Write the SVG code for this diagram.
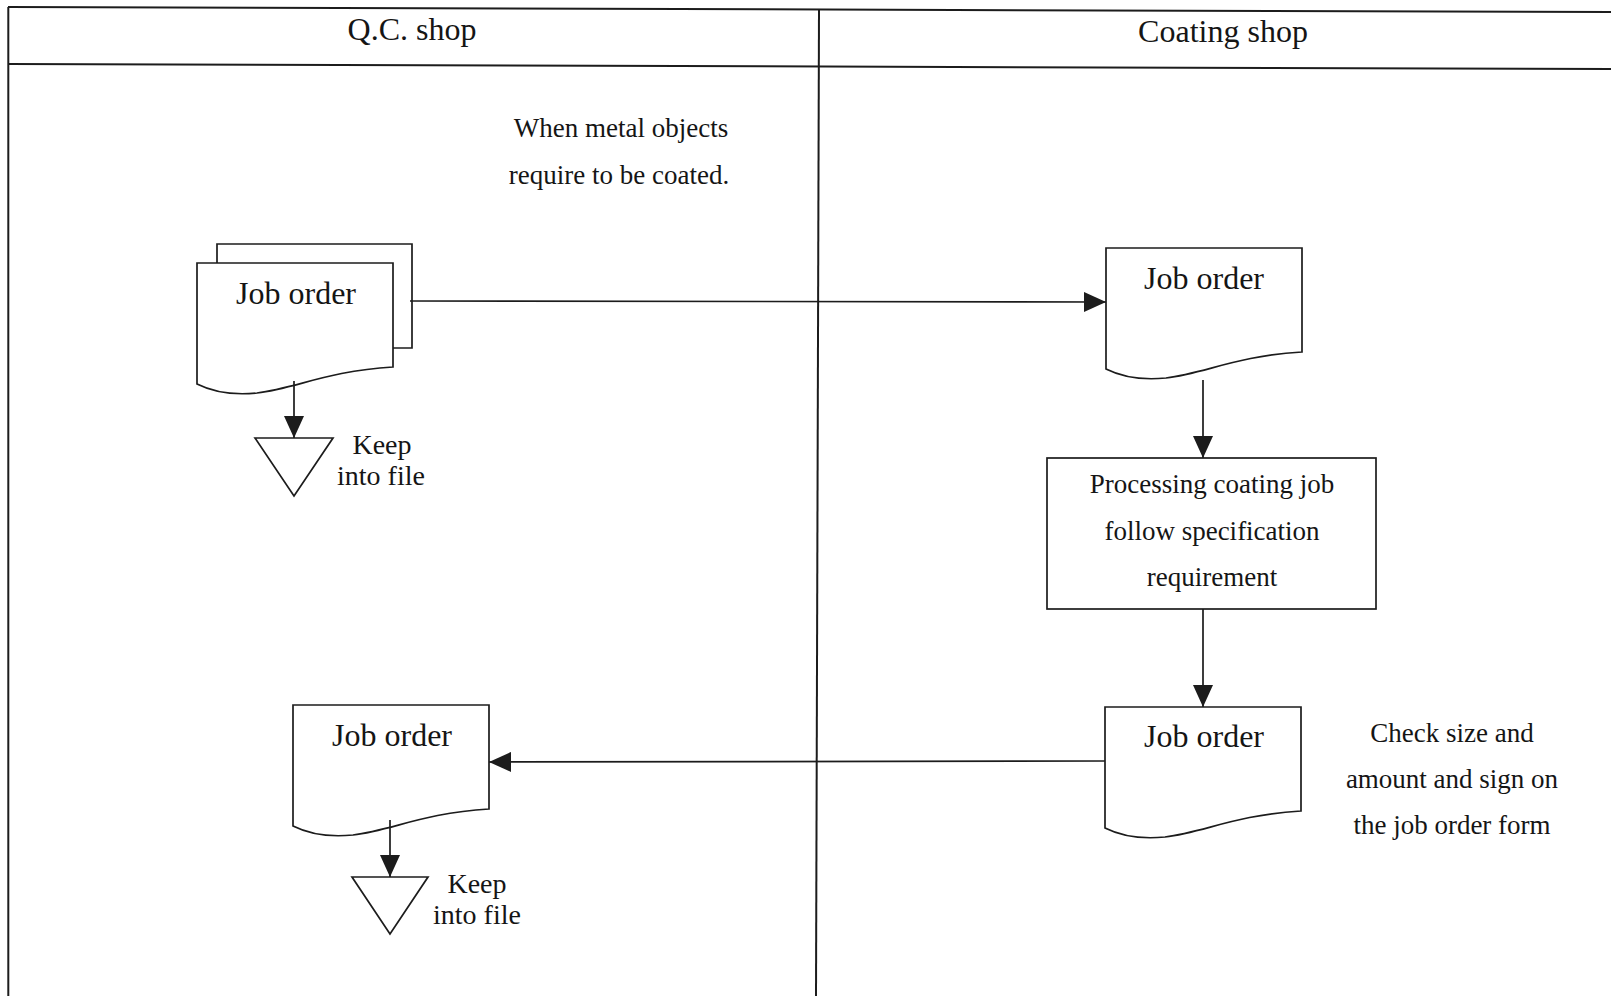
<svg xmlns="http://www.w3.org/2000/svg" xmlns:xlink="http://www.w3.org/1999/xlink" width="1611" height="996" viewBox="0 0 1611 996">
  <style>
    .ln { fill: none; stroke: #1c1c1c; stroke-width: 1.7; }
    .frame { fill: none; stroke: #1c1c1c; stroke-width: 2; }
    .shape { fill: #ffffff; stroke: #1c1c1c; stroke-width: 1.7; }
    .t { font-family: "Liberation Serif", "Times New Roman", serif; fill: #151515; text-anchor: middle; }
    .head { font-size: 32px; }
    .doc { font-size: 32px; }
    .note { font-size: 27px; }
    .keep { font-size: 28px; }
  </style>
  <defs>
    <!-- flowchart document shape, 196 wide, wavy bottom edge -->
    <path id="docShape" d="M0,0 H196 V104 C130,108 100,125 60,130 C40,132 20,131 0,121 Z"/>
    <marker id="arrow" markerUnits="userSpaceOnUse" markerWidth="22" markerHeight="20" viewBox="0 0 22 20" refX="22" refY="10" orient="auto">
      <path d="M0,0 L22,10 L0,20 Z" fill="#1c1c1c"/>
    </marker>
  </defs>

  <rect width="1611" height="996" fill="#ffffff"/>

  <!-- swimlane frame -->
  <g id="lanes" class="frame">
    <line x1="8" y1="7" x2="1611" y2="12"/>
    <line x1="8" y1="64" x2="1611" y2="69"/>
    <line x1="8.3" y1="7" x2="8.3" y2="996"/>
    <line x1="819" y1="9" x2="816" y2="996"/>
  </g>
  <g id="lane-titles">
    <text class="t head" x="412" y="40">Q.C. shop</text>
    <text class="t head" x="1223" y="42">Coating shop</text>
  </g>

  <g id="note-start">
    <text class="t note" x="621" y="137">When metal objects</text>
    <text class="t note" x="619" y="184">require to be coated.</text>
  </g>

  <!-- Q.C. shop: job order copies -->
  <g id="qc-job-order">
    <path class="shape" d="M393,348 H412 V244 H217 V263"/>
    <use xlink:href="#docShape" href="#docShape" class="shape" x="197" y="263"/>
    <text class="t doc" x="296" y="304">Job order</text>
  </g>

  <g id="qc-file-1">
    <path class="shape" d="M255,438 H333 L294,496 Z"/>
    <text class="t keep" x="382" y="454">Keep</text>
    <text class="t keep" x="381" y="485">into file</text>
  </g>

  <!-- Coating shop -->
  <g id="coat-job-order-in">
    <use xlink:href="#docShape" href="#docShape" class="shape" x="1106" y="248"/>
    <text class="t doc" x="1204" y="289">Job order</text>
  </g>

  <g id="coat-process">
    <rect class="shape" x="1047" y="458" width="329" height="151"/>
    <text class="t note" x="1212" y="493">Processing coating job</text>
    <text class="t note" x="1212" y="540">follow specification</text>
    <text class="t note" x="1212" y="586">requirement</text>
  </g>

  <g id="coat-job-order-out">
    <use xlink:href="#docShape" href="#docShape" class="shape" x="1105" y="707"/>
    <text class="t doc" x="1204" y="747">Job order</text>
  </g>

  <g id="note-check">
    <text class="t note" x="1452" y="742">Check size and</text>
    <text class="t note" x="1452" y="788">amount and sign on</text>
    <text class="t note" x="1452" y="834">the job order form</text>
  </g>

  <!-- Q.C. shop: returned job order -->
  <g id="qc-job-order-return">
    <use xlink:href="#docShape" href="#docShape" class="shape" x="293" y="705"/>
    <text class="t doc" x="392" y="746">Job order</text>
  </g>

  <g id="qc-file-2">
    <path class="shape" d="M352,877 H428 L390,934 Z"/>
    <text class="t keep" x="477" y="893">Keep</text>
    <text class="t keep" x="477" y="924">into file</text>
  </g>

  <!-- connectors -->
  <g id="connectors" class="ln" marker-end="url(#arrow)">
    <line x1="410" y1="301" x2="1106" y2="302"/>
    <line x1="294" y1="381" x2="294" y2="438"/>
    <line x1="1203" y1="380" x2="1203" y2="458"/>
    <line x1="1203" y1="609" x2="1203" y2="707"/>
    <line x1="1105" y1="761" x2="489" y2="762"/>
    <line x1="390" y1="820" x2="390" y2="877"/>
  </g>
</svg>
